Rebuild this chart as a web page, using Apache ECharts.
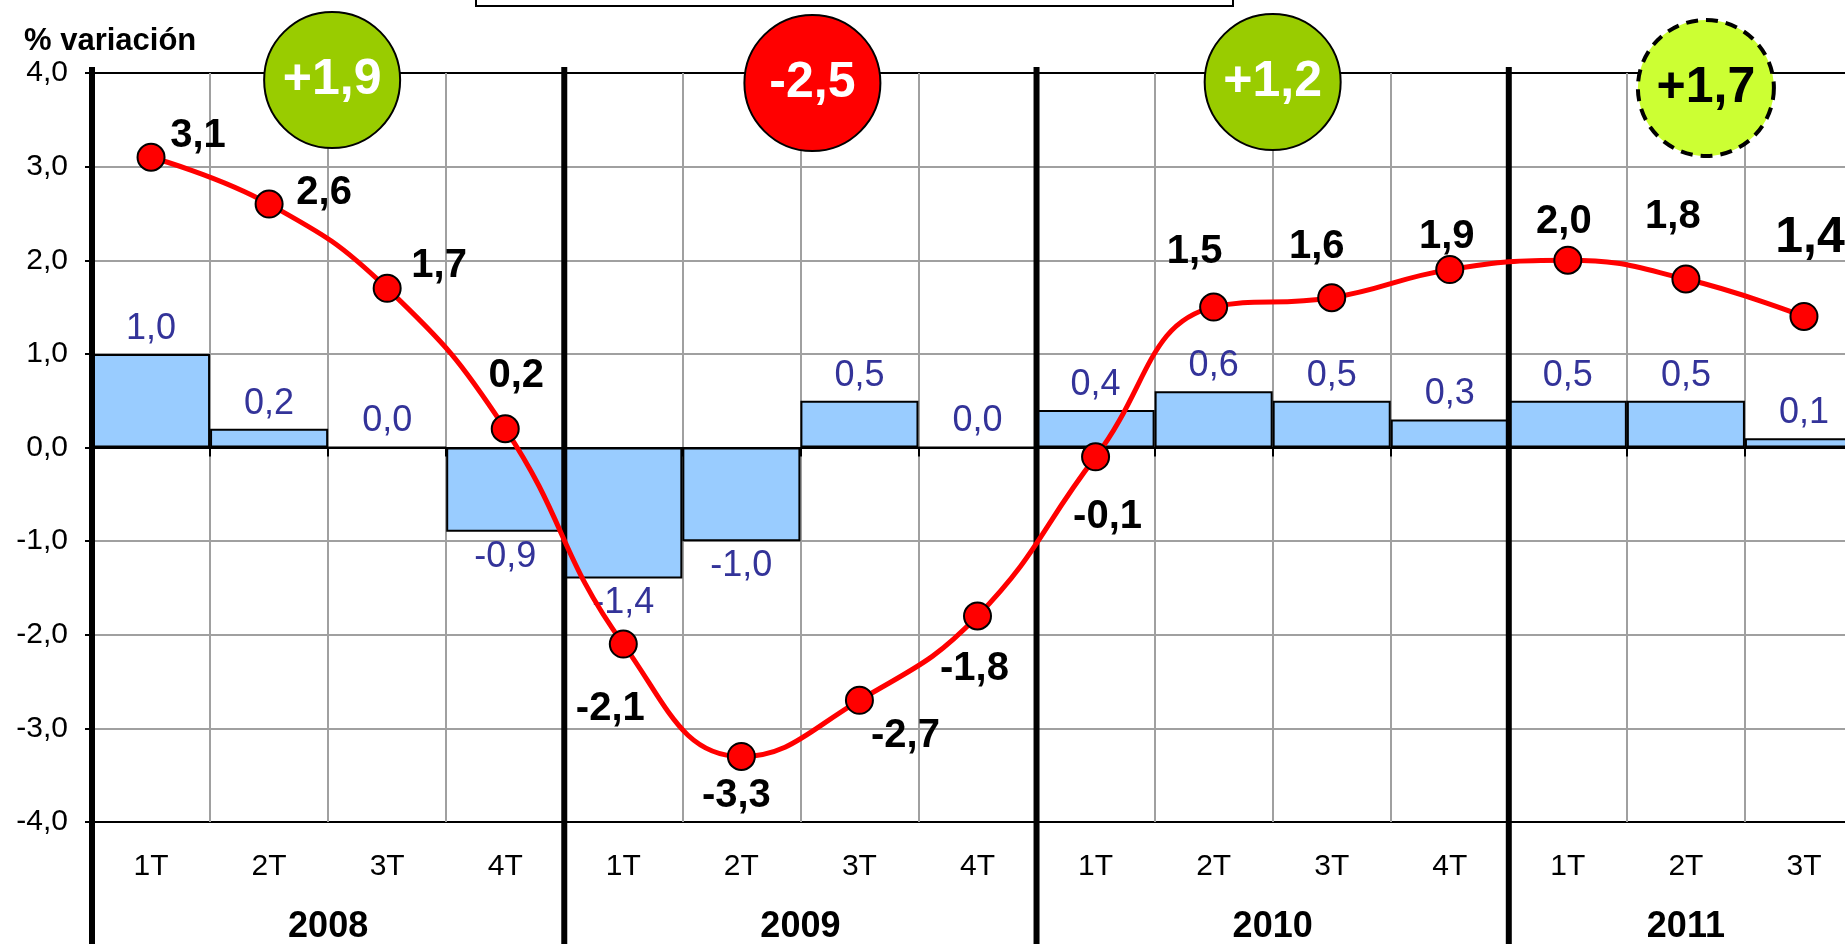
<!DOCTYPE html>
<html>
<head>
<meta charset="utf-8">
<script src="https://cdn.jsdelivr.net/npm/echarts@6/dist/echarts.min.js"></script>
<style>
html,body{margin:0;padding:0;background:#fff;}
#chart{width:1845px;height:944px;}
</style>
</head>
<body>
<div id="chart"></div>
<script>
// ---- data ----
const categories = ['1T','2T','3T','4T','1T','2T','3T','4T','1T','2T','3T','4T','1T','2T','3T'];
const years = ['2008','2009','2010','2011'];
const quartersPerYear = [4, 4, 4, 3];
const barValues = [1.0, 0.2, 0.0, -0.9, -1.4, -1.0, 0.5, 0.0, 0.4, 0.6, 0.5, 0.3, 0.5, 0.5, 0.1];
const lineValues = [3.1, 2.6, 1.7, 0.2, -2.1, -3.3, -2.7, -1.8, -0.1, 1.5, 1.6, 1.9, 2.0, 1.8, 1.4];
const annualValues = ['+1,9', '-2,5', '+1,2', '+1,7'];
const yMin = -4, yMax = 4, yStep = 1;
const yAxisName = '% variación';

// ---- styles ----
const FONT = 'Liberation Sans, Arial, sans-serif';
const lineLabelOffsets = [[47,-21],[55,-11],[52,-22],[11,-53],[-13,65],[-5,40],[46,36],[-3,53],[12,60],[-19,-55],[-15,-51],[-3,-33],[-4,-38],[-13,-62],[6,-78]];
const lineLabelSizes = [40,40,40,40,40,40,40,40,40,40,40,40,40,40,50];
const circleFill = ['#99CC00', '#FF0000', '#99CC00', '#CCFF33'];
const circleText = ['#ffffff', '#ffffff', '#ffffff', '#000000'];
const circleDash = [null, null, null, [12, 8]];
const circleOffset = [[4, 7], [12, 10], [0, 9], [20, 15]];

const fmt = v => v.toFixed(1).replace('.', ',');
const nSplit = Math.round((yMax - yMin) / yStep) + 1;
const splitColors = [];
for (let i = 0; i < nSplit; i++) splitColors.push(i === 0 || i === nSplit - 1 ? '#000000' : '#a0a0a0');

const chart = echarts.init(document.getElementById('chart'), null, {renderer: 'canvas'});

const option = {
  animation: false,
  backgroundColor: '#ffffff',
  title: {
    text: yAxisName, left: 19, top: 21,
    textStyle: {fontFamily: FONT, fontSize: 31, fontWeight: 'bold', color: '#000'}
  },
  grid: {left: 92, top: 73, width: 1771, bottom: 122, containLabel: false, outerBoundsMode: 'none'},
  xAxis: [
    {
      type: 'category', data: categories, position: 'bottom',
      axisLine: {show: false, onZero: false},
      axisTick: {show: false},
      axisLabel: {interval: 0, margin: 30, fontFamily: FONT, fontSize: 30, color: '#000'},
      splitLine: {show: true, interval: 0, lineStyle: {color: '#a0a0a0', width: 2}}
    },
    {
      type: 'category', data: categories, position: 'bottom',
      axisLine: {show: true, onZero: true, lineStyle: {color: '#000', width: 2}},
      axisTick: {show: true, interval: 0, length: 9, lineStyle: {color: '#000', width: 2}},
      axisLabel: {show: false},
      splitLine: {show: false}
    }
  ],
  yAxis: {
    type: 'value', min: yMin, max: yMax, interval: yStep,
    axisLine: {show: false},
    axisTick: {show: true, length: 7, lineStyle: {color: '#000', width: 2}},
    axisLabel: {margin: 24, formatter: fmt, fontFamily: FONT, fontSize: 30, color: '#000'},
    splitLine: {show: true, lineStyle: {color: splitColors, width: 2}}
  },
  series: [
    {
      type: 'bar', xAxisIndex: 0, data: barValues.map(v => ({
        value: v,
        label: {position: v < 0 ? 'bottom' : 'top'}
      })),
      barWidth: '100%', barCategoryGap: '0%', z: 2,
      itemStyle: {color: '#99CCFF', borderColor: '#000', borderWidth: 2},
      label: {show: true, distance: 7, formatter: p => fmt(p.value), fontFamily: FONT, fontSize: 36, color: '#333399'}
    },
    {
      type: 'line', xAxisIndex: 0, smooth: 0.45, z: 5,
      data: lineValues.map((v, i) => ({
        value: v,
        label: {offset: lineLabelOffsets[i], fontSize: lineLabelSizes[i]}
      })),
      symbol: 'circle', symbolSize: 27,
      lineStyle: {color: '#FF0000', width: 5},
      itemStyle: {color: '#FF0000', borderColor: '#000', borderWidth: 2},
      label: {show: true, position: 'inside', formatter: p => fmt(p.value), fontFamily: FONT, fontWeight: 'bold', fontSize: 40, color: '#000'}
    }
  ]
};
chart.setOption(option);

// ---- decorations positioned through the chart's own scales ----
const px = i => chart.convertToPixel({xAxisIndex: 0}, i);
const py = v => chart.convertToPixel({yAxisIndex: 0}, v);
const half = (px(1) - px(0)) / 2;
const topY = py(yMax);
const H = chart.getHeight();
const graphics = [];
// title box (cut off at top)
graphics.push({type: 'rect', z: 20, shape: {x: 476, y: -12, width: 757, height: 18},
  style: {fill: '#fff', stroke: '#000', lineWidth: 2}});
let start = 0;
years.forEach((yr, k) => {
  const n = quartersPerYear[k];
  const x0 = px(start) - half;
  const xc = (px(start) + px(start + n - 1)) / 2;
  graphics.push({type: 'line', z: 3, shape: {x1: x0, y1: topY - 6, x2: x0, y2: H + 5},
    style: {stroke: '#000', lineWidth: 6}});
  graphics.push({type: 'text', z: 3, style: {text: yr, x: xc, y: 927, textAlign: 'center', textVerticalAlign: 'middle',
    fontFamily: FONT, fontSize: 36, fontWeight: 'bold', fill: '#000'}});
  const cx = xc + circleOffset[k][0], cy = topY + circleOffset[k][1];
  graphics.push({type: 'circle', z: 10, shape: {cx: cx, cy: cy, r: 68},
    style: {fill: circleFill[k], stroke: '#000', lineWidth: circleDash[k] ? 4 : 2, lineDash: circleDash[k] || null}});
  graphics.push({type: 'text', z: 11, style: {text: annualValues[k], x: cx, y: cy, textAlign: 'center', textVerticalAlign: 'middle',
    fontFamily: FONT, fontSize: 50, fontWeight: 'bold', fill: circleText[k]}});
  start += n;
});
chart.setOption({graphic: graphics});
</script>
</body>
</html>
